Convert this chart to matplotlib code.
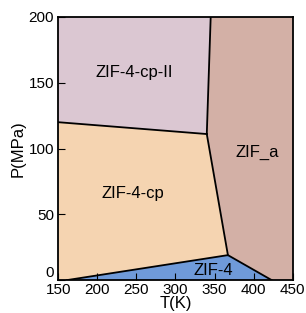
import matplotlib
matplotlib.use("Agg")
import matplotlib.pyplot as plt
from matplotlib.patches import Polygon

plt.rcParams['font.family'] = ['Liberation Sans', 'DejaVu Sans']

# phase boundary points (T in K, P in MPa)
triple_top = (340, 111)
triple_low = (367, 19)
cp2_left = (150, 120)
top_mid = (345, 200)
zif4_left = (161, 0)
zif4_right = (423, 0)

phases = ["ZIF-4-cp-II", "ZIF-4-cp", "ZIF_a", "ZIF-4"]
colors = ["#dbc7d2", "#f5d4b1", "#d3b0a6", "#6f9ad9"]
label_pos = [(247, 158), (246, 66), (405, 97), (348, 7)]

regions = [
    [cp2_left, (150, 200), top_mid, triple_top],
    [(150, 0), cp2_left, triple_top, triple_low, zif4_left],
    [top_mid, (450, 200), (450, 0), zif4_right, triple_low, triple_top],
    [zif4_left, triple_low, zif4_right],
]

fig = plt.figure(figsize=(3.06, 3.13), dpi=100)
ax = fig.add_axes([0.19, 0.105, 0.767, 0.841])

for pts, c in zip(regions, colors):
    ax.add_patch(Polygon(pts, closed=True, facecolor=c, edgecolor='none'))

# boundary lines
lines = [
    [cp2_left, triple_top],
    [triple_top, top_mid],
    [triple_top, triple_low],
    [zif4_left, triple_low, zif4_right],
]
for ln in lines:
    ax.plot([p[0] for p in ln], [p[1] for p in ln], color='k', lw=1.3)

for name, (x, y) in zip(phases, label_pos):
    ax.text(x, y, name, ha='center', va='center', fontsize=12)

ax.set_xlim(150, 450)
ax.set_ylim(0, 200)
ax.set_xticks([150, 200, 250, 300, 350, 400, 450])
ax.set_yticks([0, 50, 100, 150, 200])
ax.tick_params(direction='in', labelsize=11, length=5, top=False, right=False)
ax.tick_params(axis='y', pad=3)
ax.tick_params(axis='x', pad=2)
# nudge the lowest y label up a bit, as in the original
ax.get_yticklabels()[0].set_verticalalignment('bottom')
ax.set_xlabel("T(K)", fontsize=12, labelpad=-1)
ax.set_ylabel("P(MPa)", fontsize=12, labelpad=2)
for s in ax.spines.values():
    s.set_linewidth(1.3)

fig.savefig("out.png", dpi=100)
